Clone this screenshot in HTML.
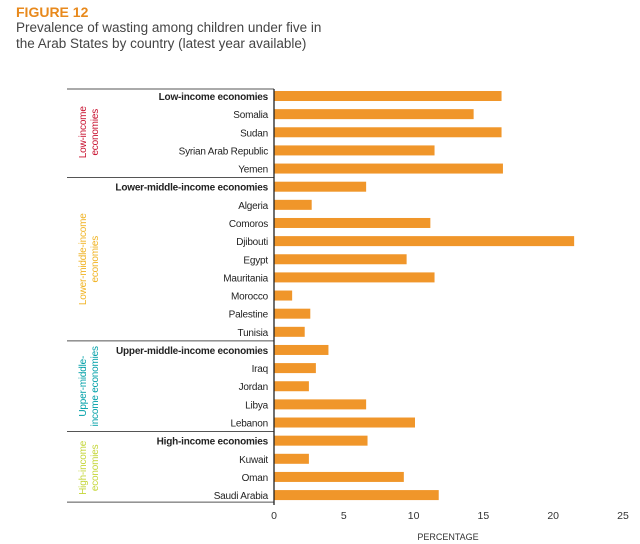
<!DOCTYPE html>
<html><head><meta charset="utf-8"><style>
body{margin:0;background:#fff;width:640px;height:544px;overflow:hidden;font-family:"Liberation Sans Narrow","Liberation Sans",sans-serif;}
.t{position:absolute;left:16px;}
</style></head><body>
<div class="t" style="top:4px;font-weight:bold;color:#e8891c;font-size:14px;">FIGURE 12</div>
<div class="t" style="top:20px;color:#444;font-size:13.5px;line-height:16px;">Prevalence of wasting among children under five in<br>the Arab States by country (latest year available)</div>
<svg id="c" width="640" height="544" style="position:absolute;left:0;top:0"></svg>
<script>
const categories=["Low-income economies","Somalia","Sudan","Syrian Arab Republic","Yemen","Lower-middle-income economies","Algeria","Comoros","Djibouti","Egypt","Mauritania","Morocco","Palestine","Tunisia","Upper-middle-income economies","Iraq","Jordan","Libya","Lebanon","High-income economies","Kuwait","Oman","Saudi Arabia"];
const values=[16.3,14.3,16.3,11.5,16.4,6.6,2.7,11.2,21.5,9.5,11.5,1.3,2.6,2.2,3.9,3.0,2.5,6.6,10.1,6.7,2.5,9.3,11.8];
const boldRows=[0,5,14,19];
const groupNames=[["Low-income","economies"],["Lower-middle-income","economies"],["Upper-middle-","income economies"],["High-income","economies"]];
const groupStart=[0,5,14,19];
const groupEnd=[4,13,18,22];
const groupColors=["#c8102e","#f0b323","#00a0a8","#c5d639"];
const ticks=[0,5,10,15,20,25];
const NS="http://www.w3.org/2000/svg";
const svg=document.getElementById('c');
const x0=274,xs=(623-274)/25;
const X=v=>x0+v*xs;
const Y=i=>96+i*18.14;
function el(t,a){const e=document.createElementNS(NS,t);for(const k in a)e.setAttribute(k,a[k]);svg.appendChild(e);return e;}
categories.forEach((c,i)=>{
 const r=el('rect',{x:x0,y:Y(i)-5,width:X(values[i])-x0,height:10,fill:'#f0962a'});
 
 
 const t=el('text',{x:268,y:Y(i)+4,'text-anchor':'end','font-size':'10','letter-spacing':'-0.2',fill:'#222','font-weight':boldRows.includes(i)?'bold':'normal'});
 t.textContent=c;
 
 
});
const seps=[89];
groupEnd.forEach(e=>seps.push(Y(e)+(e==22?7:9)));
seps.forEach(y=>{const l=el('line',{x1:67,x2:x0,y1:y,y2:y,stroke:'#555','stroke-width':1});
 });
groupNames.forEach((g,k)=>{
 const cy=(Y(groupStart[k])+Y(groupEnd[k]))/2;
 const t=el('text',{transform:`translate(88,${cy}) rotate(-90)`,'text-anchor':'middle','font-size':'10','letter-spacing':'-0.2',fill:groupColors[k]});
 
 g.forEach((s,j)=>{const ts=document.createElementNS(NS,'tspan');ts.setAttribute('x',0);ts.setAttribute('y',(j-0.5)*12+4);ts.textContent=s;t.appendChild(ts);});
});
const ax=el('line',{x1:x0,x2:x0,y1:89,y2:505,stroke:'#222','stroke-width':1.3});

ticks.forEach(v=>{const t=el('text',{x:X(v),y:519,'text-anchor':'middle','font-size':'10.5',fill:'#333'});t.textContent=v;
 });
const xt=el('text',{x:448,y:540,'text-anchor':'middle','font-size':'9',fill:'#333'});xt.textContent='PERCENTAGE';

</script>
</body></html>
